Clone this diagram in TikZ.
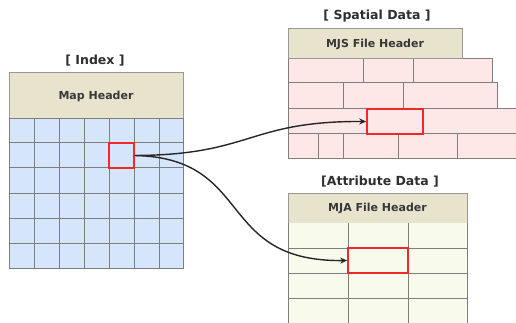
\documentclass[tikz,border=0pt]{standalone}
\usepackage{fontspec}
\setmainfont{DejaVu Sans}
\usetikzlibrary{arrows.meta}
\definecolor{hdr}{HTML}{E8E3CD}
\definecolor{idxfill}{HTML}{D5E5FB}
\definecolor{spfill}{HTML}{FDE7E7}
\definecolor{atfill}{HTML}{F8FBEB}
\definecolor{gridc}{HTML}{7E7E7E}
\definecolor{redc}{HTML}{F02828}
\tikzset{
  gridline/.style={draw=gridc, line width=1pt},
  hdrbox/.style={draw=gridc!80, line width=1pt, fill=hdr},
  hdrtext/.style={font=\bfseries\fontsize{11}{13}\selectfont, text=black!78, inner sep=0pt},
  titletext/.style={font=\bfseries\fontsize{12.5}{14}\selectfont, text=black!82, inner sep=0pt},
  redbox/.style={draw=redc, line width=1.6pt, inner sep=0pt},
  arr/.style={-{Stealth[length=7pt,width=6pt]}, line width=1.4pt, black!85},
}
\begin{document}
\begin{tikzpicture}[x=1pt,y=-1pt]
\useasboundingbox (0,0) rectangle (516,323);
\clip (0,0) rectangle (516,323);
% ---------- Index ----------
\node[titletext] (tidx) at (95,61) {[ Index ]};
\draw[hdrbox] (9,73) rectangle (183,119);
\node[hdrtext] (hidx) at (96,96) {Map Header};
\fill[idxfill] (9,119) rectangle (183,268);
\foreach \y in {143,168,193,218,243} \draw[gridline] (9,\y) -- (183,\y);
\foreach \x in {34,59,84,109,134,159} \draw[gridline] (\x,119) -- (\x,268);
\draw[gridline] (9,119) rectangle (183,268);
\node[redbox, minimum width=25pt, minimum height=25pt] (src) at (121.5,155.5) {};
% ---------- Spatial ----------
\node[titletext] (tsp) at (377,16) {[ Spatial Data ]};
\fill[spfill] (288,59) rectangle (492,83);
\fill[spfill] (288,83) rectangle (497,109);
\fill[spfill] (288,109) rectangle (520,159);
\draw[gridline] (288,59) -- (288,159);
\draw[gridline] (288,59) -| (492,83);
\draw[gridline] (288,83) -| (497,109);
\draw[gridline] (288,109) -- (520,109);
\draw[gridline] (288,134) -- (520,134);
\draw[gridline] (288,159) -- (520,159);
\foreach \x in {363,413} \draw[gridline] (\x,59) -- (\x,83);
\foreach \x in {343,403} \draw[gridline] (\x,83) -- (\x,109);
\foreach \x in {318,343,398,457} \draw[gridline] (\x,134) -- (\x,159);
\draw[hdrbox] (288,29) rectangle (462,59);
\node[hdrtext] (hsp) at (375,44) {MJS File Header};
\node[redbox, minimum width=56pt, minimum height=25pt] (dsp) at (395,121.5) {};
% ---------- Attribute ----------
\node[titletext] (tat) at (380,182) {[Attribute Data ]};
\draw[hdrbox] (288,193) rectangle (467,223);
\node[hdrtext] (hat) at (377.5,208) {MJA File Header};
\fill[atfill] (288,223) rectangle (467,330);
\foreach \y in {248,273,298} \draw[gridline] (288,\y) -- (467,\y);
\foreach \x in {288,348,408,467} \draw[gridline] (\x,223) -- (\x,330);
\node[redbox, minimum width=60pt, minimum height=25pt] (dat) at (378,260.5) {};
% ---------- Connectors ----------
\draw[arr] (src.east) .. controls (252,155) and (248,121) .. (dsp.west);
\draw[arr] (src.east) .. controls (255,158) and (215,262) .. (dat.west);
\end{tikzpicture}
\end{document}
